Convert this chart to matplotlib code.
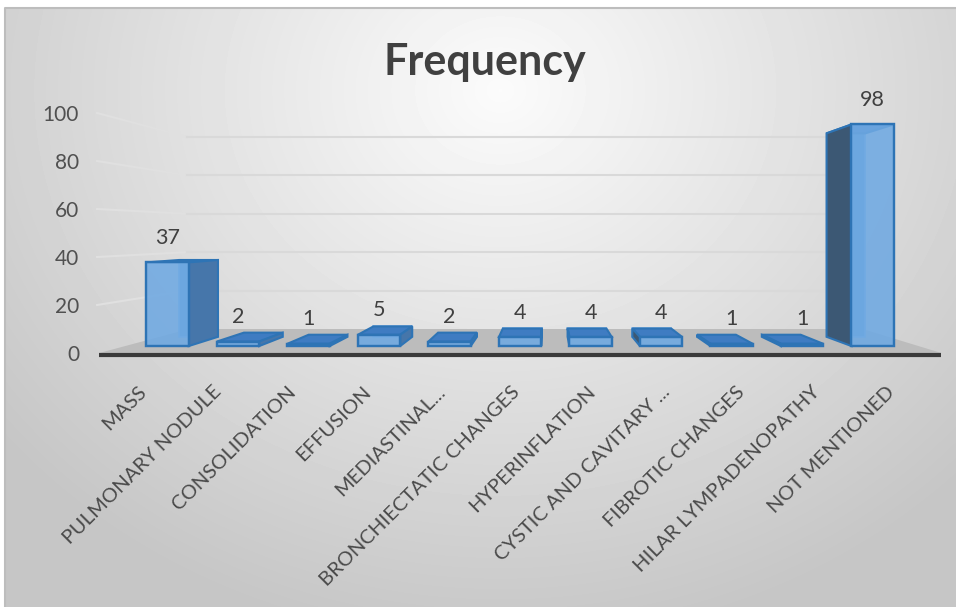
import numpy as np
import matplotlib
matplotlib.use("Agg")
import matplotlib.pyplot as plt
from matplotlib.patches import Polygon
from matplotlib.transforms import ScaledTranslation

# ---- data ----
categories = ["MASS", "PULMONARY NODULE", "CONSOLIDATION", "EFFUSION", "MEDIASTINAL...",
              "BRONCHIECTATIC CHANGES", "HYPERINFLATION", "CYSTIC AND CAVITARY ...",
              "FIBROTIC CHANGES", "HILAR LYMPADENOPATHY", "NOT MENTIONED"]
frequency = [37, 2, 1, 5, 2, 4, 4, 4, 1, 1, 98]
y_ticks = [0, 20, 40, 60, 80, 100]
chart_title = "Frequency"

plt.rcParams['font.family'] = ['Lato', 'DejaVu Sans']

W, H = 956, 607
fig = plt.figure(figsize=(W / 100, H / 100), dpi=100)

# ---- soft grey chart-area background with a frame ----
bg = fig.add_axes([0, 0, 1, 1], zorder=-10)
yy, xx = np.mgrid[0:H, 0:W]
r = np.clip(np.hypot(xx - 500, (yy - 90) * 1.15) / 640, 0, 1)
shade = 0.985 + (0.775 - 0.985) * r
shade[:8, :] = 1.0
shade[:, :5] = 1.0
bg.imshow(shade, cmap="gray", vmin=0, vmax=1, extent=(0, W, H, 0),
          aspect="auto", interpolation="bilinear")
bg.plot([5, 5, W], [H, 8, 8], color="#bdbdbd", lw=1.5)
bg.set_xlim(0, W)
bg.set_ylim(H, 0)
bg.axis("off")

# ---- main axes: the front plane of the 3-D box ----
x_lo, x_hi = -0.6, 10.65
ax = fig.add_axes([99.3 / W, (H - 353) / H, (941.3 - 99.3) / W, 240 / H])
ax.set_xlim(x_lo, x_hi)
ax.set_ylim(0, 100)
ax.patch.set_alpha(0)
for s in ax.spines.values():
    s.set_visible(False)

# perspective helper: points recede towards a vanishing point
VP = (5.38, 50.0)
K_FRONT, K_BACK, K_WALL = 0.058, 0.135, 0.20


def proj(x, y, k):
    return (x + (VP[0] - x) * k, y + (VP[1] - y) * k)


# gridlines on the side wall and back wall
for v in y_ticks[1:]:
    p0 = (x_lo - 0.03, v)
    p1 = proj(x_lo - 0.03, v, K_WALL)
    p2 = proj(x_hi, v, K_WALL)
    ax.plot([p0[0], p1[0]], [p0[1], p1[1]], color="#e0e0e0", lw=1.5, zorder=0.5, clip_on=False)
    ax.plot([p1[0], p2[0]], [p1[1], p2[1]], color="#d9d9d9", lw=1.5, zorder=0.5, clip_on=False)

# floor
floor = [(x_lo, 0), (x_hi, 0), proj(x_hi, 0, K_WALL), proj(x_lo, 0, K_WALL)]
ax.add_patch(Polygon(floor, closed=True, facecolor="#bcbcbc", edgecolor="none",
                     zorder=1, clip_on=False))
ax.plot([x_lo, x_hi], [-0.7, -0.7], color="#3a3a3a", lw=3, zorder=2,
        solid_capstyle="butt", clip_on=False)

# bars
EDGE = "#2e74b5"
half = 0.3
for i, v in enumerate(frequency):
    x0, x1 = i - half, i + half
    f = [proj(x0, 0, K_FRONT), proj(x1, 0, K_FRONT), proj(x1, v, K_FRONT), proj(x0, v, K_FRONT)]
    b = [proj(x0, 0, K_BACK), proj(x1, 0, K_BACK), proj(x1, v, K_BACK), proj(x0, v, K_BACK)]
    # back edges seen through the translucent front
    ax.add_patch(Polygon(b, closed=True, facecolor="#5b9bd5", edgecolor="#80b4e6",
                         lw=1.2, zorder=3, clip_on=False))
    top = [f[3], f[2], b[2], b[3]]
    ax.add_patch(Polygon(top, closed=True, facecolor="#3f7cc2", edgecolor=EDGE,
                         lw=1.5, zorder=4, clip_on=False))
    if i - half < VP[0] and i + half < VP[0]:
        side = [f[1], f[2], b[2], b[1]]
        side_col = "#4676aa"
    else:
        side = [f[0], f[3], b[3], b[0]]
        side_col = "#3c5874"
    ax.add_patch(Polygon(side, closed=True, facecolor=side_col, edgecolor=EDGE,
                         lw=1.5, zorder=4, clip_on=False))
    ax.add_patch(Polygon(f, closed=True, facecolor="#6fa9e2", edgecolor=EDGE,
                         lw=1.6, alpha=0.88, zorder=5, clip_on=False))
    ax.add_patch(Polygon(f, closed=True, facecolor="none", edgecolor=EDGE,
                         lw=1.6, zorder=5.5, clip_on=False))
    ax.annotate(str(v), xy=proj(i, v, K_FRONT), xytext=(0, 17.6),
                textcoords="offset points", ha="center", va="center",
                fontsize=15.5, color="#404040", zorder=6, annotation_clip=False)

# axis ticks and labels
ax.set_yticks(y_ticks)
ax.set_yticklabels([str(t) for t in y_ticks], fontsize=15, color="#505050")
ax.tick_params(axis="y", length=0, pad=14.6)
ax.set_xticks(range(len(categories)))
ax.set_xticklabels(categories, rotation=45, ha="right", va="top",
                   fontsize=14.5, color="#4a4a4a")
ax.tick_params(axis="x", length=0, pad=21.6)
shift = ScaledTranslation(5 / 100, 0, fig.dpi_scale_trans)
for lab in ax.get_xticklabels():
    lab.set_transform(lab.get_transform() + shift)

fig.text(485 / W, 1 - 75 / H, chart_title, ha="center", va="baseline",
         fontsize=31, fontweight="bold", color="#404040")

fig.savefig("out.png", dpi=100)
